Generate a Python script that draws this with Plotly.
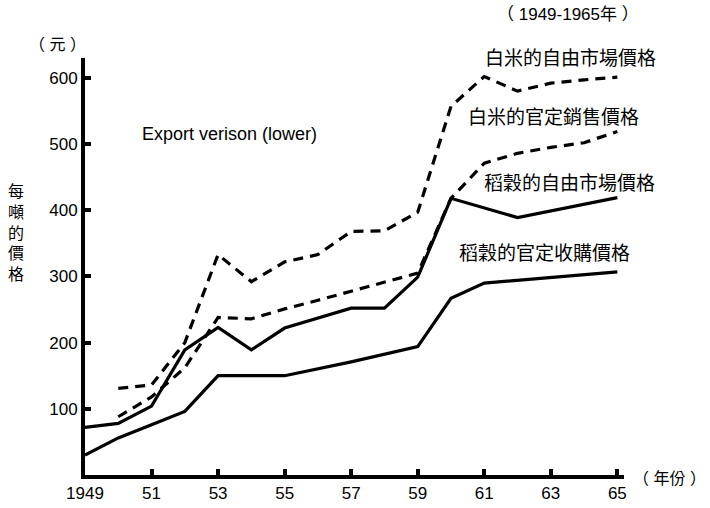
import plotly.graph_objects as go

# ---------------- data ----------------
rice_free_years = [1950, 1951, 1952, 1953, 1954, 1955, 1956, 1957, 1958, 1959, 1960, 1961, 1962, 1963, 1964, 1965]
rice_free_prices = [131, 136, 200, 333, 292, 322, 333, 368, 369, 397, 557, 602, 580, 592, 597, 601]

rice_official_years = [1950, 1951, 1952, 1953, 1954, 1955, 1956, 1957, 1958, 1959, 1960, 1961, 1962, 1963, 1964, 1965]
rice_official_prices = [88, 118, 162, 238, 236, 251, 264, 278, 291, 305, 418, 471, 486, 495, 502, 519]

paddy_free_years = [1949, 1950, 1951, 1952, 1953, 1954, 1955, 1957, 1958, 1959, 1960, 1962, 1965]
paddy_free_prices = [72, 78, 104, 189, 223, 189, 222, 252, 252, 299, 418, 389, 419]

paddy_official_years = [1949, 1950, 1951, 1952, 1953, 1955, 1957, 1959, 1960, 1961, 1965]
paddy_official_prices = [30, 56, 76, 96, 150, 150, 171, 194, 267, 290, 307]

series_names = ["白米的自由市場價格", "白米的官定銷售價格", "稻穀的自由市場價格", "稻穀的官定收購價格"]

x_tick_vals = [1949, 1951, 1953, 1955, 1957, 1959, 1961, 1963, 1965]
x_tick_text = ["1949", "51", "53", "55", "57", "59", "61", "63", "65"]
y_tick_vals = [100, 200, 300, 400, 500, 600]
y_tick_text = ["100", "200", "300", "400", "500", "600"]

title_text = "（ 1949-1965年 ）"
y_unit_text = "（ 元 ）"
y_title_text = "每噸的價格"
x_unit_text = "（ 年份 ）"
note_text = "Export verison (lower)"

# ---------------- layout geometry ----------------
W, H = 710, 508
L, R, T, B = 85, 86, 58, 33
PW, PH = W - L - R, H - T - B

def px(x):
    return (x - L) / PW

def py(y):
    return (H - B - y) / PH

LATIN = "Liberation Sans, Arial, Noto Sans CJK TC, sans-serif"
CJK = "Noto Sans CJK TC, Noto Sans CJK SC, sans-serif"

fig = go.Figure()

dash_style = "10px,7px"
fig.add_trace(go.Scatter(x=rice_free_years, y=rice_free_prices, mode="lines", name=series_names[0],
                         line=dict(color="black", width=3.2, dash=dash_style)))
fig.add_trace(go.Scatter(x=rice_official_years, y=rice_official_prices, mode="lines", name=series_names[1],
                         line=dict(color="black", width=3.2, dash=dash_style)))
fig.add_trace(go.Scatter(x=paddy_free_years, y=paddy_free_prices, mode="lines", name=series_names[2],
                         line=dict(color="black", width=3.2)))
fig.add_trace(go.Scatter(x=paddy_official_years, y=paddy_official_prices, mode="lines", name=series_names[3],
                         line=dict(color="black", width=3.2)))

annotations = []

def add_text(text, x, y, size, font=CJK, xanchor="center"):
    annotations.append(dict(text=text, x=px(x), y=py(y), xref="paper", yref="paper",
                            xanchor=xanchor, yanchor="middle", showarrow=False,
                            font=dict(family=font, size=size, color="black")))

# series labels
add_text(series_names[0], 570, 56, 19)
add_text(series_names[1], 553, 115, 19)
add_text(series_names[2], 569, 181, 19)
add_text(series_names[3], 544, 251, 19)

add_text(title_text, 568, 15, 17, font=LATIN)
add_text(y_unit_text, 57, 45, 16, font=LATIN)
add_text(x_unit_text, 708, 478, 16, font=LATIN, xanchor="right")
add_text(note_text, 229, 134, 18, font=LATIN)

# vertical y title, stacked characters
add_text("<br>".join(y_title_text), 16, 231, 16)

axis_common = dict(showgrid=False, zeroline=False, showline=True, linecolor="black", linewidth=4,
                   ticks="inside", ticklen=6, tickwidth=4, tickcolor="black", automargin=False,
                   tickfont=dict(family=LATIN, size=17, color="black"), tickmode="array")

fig.update_layout(
    width=W, height=H,
    margin=dict(l=L, r=R, t=T, b=B, autoexpand=False),
    paper_bgcolor="white", plot_bgcolor="white",
    showlegend=False,
    annotations=annotations,
    xaxis=dict(range=[1949, 1965.2], tickvals=x_tick_vals, ticktext=x_tick_text, **axis_common),
    yaxis=dict(range=[0, 630], tickvals=y_tick_vals, ticktext=y_tick_text, **axis_common),
)

fig.write_html("out.html", config={"displayModeBar": False},
               post_script="document.body.style.margin='0';document.body.style.padding='0';")
